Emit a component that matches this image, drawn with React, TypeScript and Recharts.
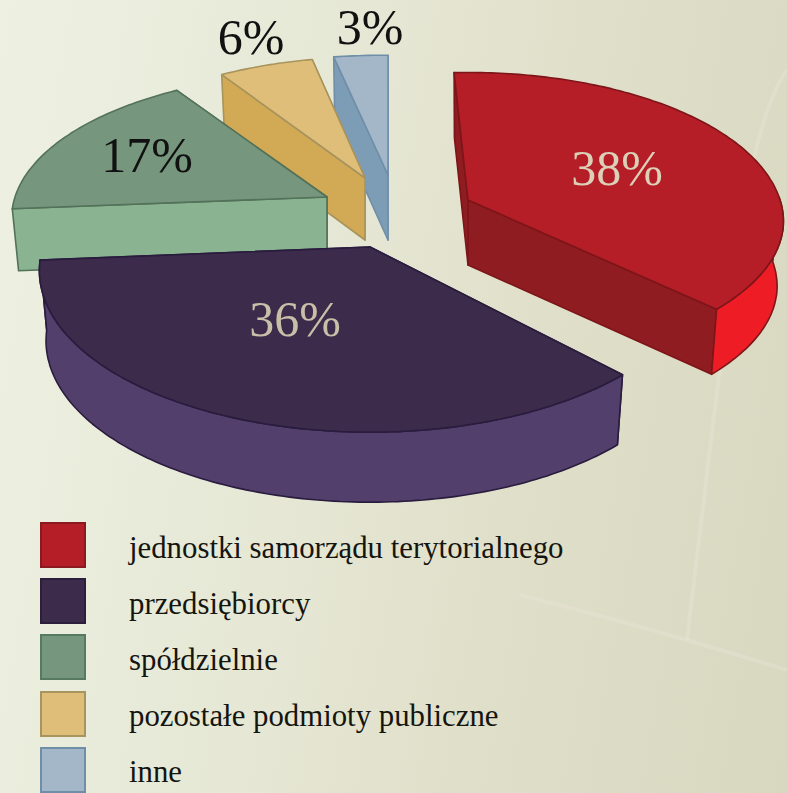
import React from "react";
import { PieChart, Pie, Legend } from "recharts";

const W = 787;
const H = 793;

const legendNames = ["jednostki samorządu terytorialnego", "przedsiębiorcy", "spółdzielnie", "pozostałe podmioty publiczne", "inne"];
const legendValues = [38, 36, 17, 6, 3];

const sliceStyles: Record<string, any> = {
  "jednostki samorządu terytorialnego": { ox: 78, oy: -15, rx: 312, ryFar: 150, ryNear: 143, rot: 2, depth: 65, frontWall: true, top: "#b61e27", wall: "#ee1c25", face: "#8e1c20", stroke: "#7d1519", swatchStroke: "#8a1a1f", lx: 149, ly: -26, text: "#dcd0b8" },
  "przedsiębiorcy": { ox: -20, oy: 32, rx: 327, ryFar: 161, ryNear: 161, rot: 0, depth: 70, frontWall: true, top: "#3c2b4a", wall: "#533f6b", face: "#533f6b", stroke: "#2a1c3e", swatchStroke: "#2c1f3c", lx: -75, ly: 78, text: "#c9bfa8" },
  "spółdzielnie": { ox: -63, oy: -18, rx: 312, ryFar: 146, ryNear: 146, rot: 0, depth: 62, frontWall: false, top: "#76977e", wall: "#8ab391", face: "#8ab391", stroke: "#537259", swatchStroke: "#567a60", lx: -180, ly: -36, text: "#111111" },
  "pozostałe podmioty publiczne": { ox: -25, oy: -37, rx: 295, ryFar: 142, ryNear: 142, rot: 0.3, depth: 62, frontWall: false, top: "#dfbe7a", wall: "#d2aa55", face: "#d2aa55", stroke: "#a8945c", swatchStroke: "#a8945f", lx: -114, ly: -135, text: "#111111" },
  "inne": { ox: -2, oy: -40, rx: 340, ryFar: 141, ryNear: 141, rot: -1, depth: 65, frontWall: false, top: "#a4b7c8", wall: "#7c9db5", face: "#7c9db5", stroke: "#6f8fa8", swatchStroke: "#6f8fa8", lx: -18, ly: -142, text: "#111111" },
};

// drawn back to front
const drawOrder = [4, 3, 2, 1, 0];
const pieData = drawOrder.map((i) => ({ name: legendNames[i], value: legendValues[i] }));

const PERSPECTIVE = 0.15;
const BOTTOM_SHRINK = 0.98;
const rad = Math.PI / 180;

const Slice3D = (props: any) => {
  const { cx, cy, startAngle, endAngle, payload, name } = props;
  const st = sliceStyles[name ?? payload?.name];
  const ax = cx + st.ox;
  const ay = cy + st.oy;
  const top = (deg0: number): [number, number] => {
    const deg = deg0 + st.rot;
    const sn = Math.sin(deg * rad);
    const s = 1 - PERSPECTIVE * sn;
    return [ax + st.rx * Math.cos(deg * rad) * s, ay - (sn > 0 ? st.ryFar : st.ryNear) * sn * s];
  };
  const low = (p: [number, number]): [number, number] => [ax + (p[0] - ax) * BOTTOM_SHRINK, p[1] + st.depth];
  const lowApex: [number, number] = [ax, ay + st.depth];
  const path = (pts: [number, number][]) => "M" + pts.map((p) => `${p[0].toFixed(1)},${p[1].toFixed(1)}`).join("L") + "Z";

  const arc: [number, number][] = [];
  const n = Math.max(2, Math.ceil(Math.abs(endAngle - startAngle)));
  for (let i = 0; i <= n; i++) arc.push(top(startAngle + ((endAngle - startAngle) * i) / n));

  const first = arc[0];
  const last = arc[arc.length - 1];
  const front = arc.filter((_, i) => {
    const a = startAngle + ((endAngle - startAngle) * i) / n + st.rot;
    return Math.sin(a * rad) <= 0.02;
  });
  const common = { stroke: st.stroke, strokeWidth: 1.6, strokeLinejoin: "round" as const };
  return (
    <g>
      <path d={path([[ax, ay], first, low(first), lowApex])} fill={st.face} {...common} />
      <path d={path([[ax, ay], last, low(last), lowApex])} fill={st.face} {...common} />
      {st.frontWall && front.length > 1 && (
        <path d={path([...front, ...front.slice().reverse().map(low)])} fill={st.wall} {...common} />
      )}
      <path d={path([[ax, ay], ...arc])} fill={st.top} {...common} />
    </g>
  );
};

const renderLabel = (props: any) => {
  const { cx, cy, name, value } = props;
  const st = sliceStyles[name];
  return (
    <text x={cx + st.ox + st.lx} y={cy + st.oy + st.ly} textAnchor="middle" dominantBaseline="middle" fontFamily="'Liberation Serif', serif" fontSize={50} fill={st.text}>
      {`${value}%`}
    </text>
  );
};

const renderLegend = () => (
  <div style={{ position: "relative", width: W, height: 280 }}>
    {legendNames.map((nm, i) => (
      <div key={nm} style={{ position: "absolute", left: 40, top: i * 56.2, height: 46, display: "flex", alignItems: "center" }}>
        <div style={{ width: 42, height: 42, boxSizing: "content-box", background: sliceStyles[nm].top, border: `2px solid ${sliceStyles[nm].swatchStroke}` }} />
        <span style={{ marginLeft: 43, position: "relative", top: 3, fontFamily: "'Liberation Serif', serif", fontSize: 30.8, color: "#15150f", whiteSpace: "nowrap" }}>{nm}</span>
      </div>
    ))}
  </div>
);

export default function App() {
  return (
    <div
      style={{
        position: "absolute",
        left: 0,
        top: 0,
        width: W,
        height: H,
        overflow: "hidden",
        background: "linear-gradient(100deg, #eef0e2 0%, #e7e9d7 35%, #dfdec8 68%, #d8d7c0 100%)",
      }}
    >
      <svg width={W} height={H} style={{ position: "absolute", left: 0, top: 0 }}>
        <path d="M787,70 C745,130 728,300 687,640" fill="none" stroke="#e8e7d6" strokeWidth={4} opacity={0.4} />
        <path d="M520,595 C600,615 690,640 787,670" fill="none" stroke="#e8e7d6" strokeWidth={4} opacity={0.4} />
      </svg>
      <PieChart width={W} height={H} margin={{ top: 0, right: 0, bottom: 0, left: 0 }}>
        <Pie
          data={pieData}
          dataKey="value"
          nameKey="name"
          cx={390}
          cy={215}
          innerRadius={0}
          outerRadius={150}
          startAngle={91}
          endAngle={451}
          stroke="none"
          isAnimationActive={false}
          shape={Slice3D}
          label={renderLabel}
          labelLine={false}
        />
        <Legend content={renderLegend} wrapperStyle={{ position: "absolute", left: 0, top: 522, width: W, height: 280 }} />
      </PieChart>
    </div>
  );
}
